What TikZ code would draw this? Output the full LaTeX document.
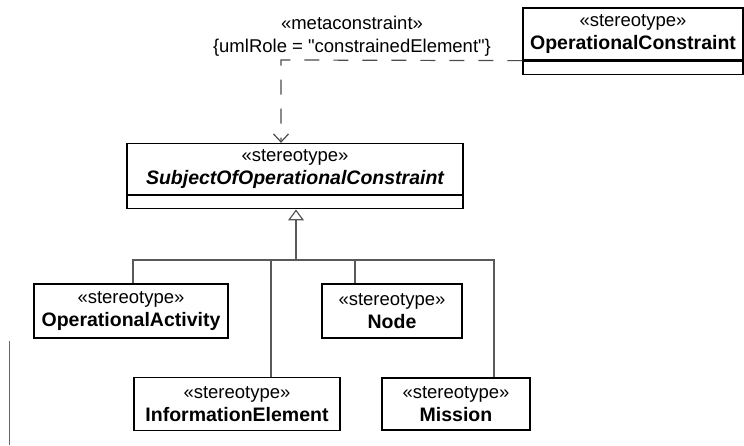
\documentclass[tikz,border=0pt]{standalone}
\usepackage{fontspec}
\setmainfont{Liberation Sans}
\usepackage{tikz}
\usetikzlibrary{arrows.meta,positioning}
\newcommand{\regtxt}{\fontsize{18.5}{23.5}\selectfont}
\newcommand{\stname}[1]{{\fontsize{19.5}{23.5}\selectfont\bfseries #1}}
\newcommand{\stabs}[1]{{\fontsize{19.5}{23.5}\selectfont\bfseries\itshape #1}}
\tikzset{
  >=Stealth,
  stereo/.style={draw, line width=1.3pt, inner sep=0pt, align=center, font=\regtxt},
  attrbox/.style={draw, line width=1.3pt, inner sep=0pt},
  gen/.style={draw=black!65, line width=1.2pt},
  dep/.style={draw=black!70, line width=1.2pt, dash pattern=on 15pt off 14pt},
  lbl/.style={align=center, font=\regtxt}
}
\begin{document}
\begin{tikzpicture}[x=1pt, y=-1pt]
    \useasboundingbox (0,0) rectangle (744,446);
    \node[stereo, minimum width=220pt, minimum height=52pt] (opcon) at (633, 34) {«stereotype»\\\stname{OperationalConstraint}};
    \node[attrbox, minimum width=220pt, minimum height=13pt, anchor=north] (opconA) at (opcon.south) {};
    \node[stereo, minimum width=336pt, minimum height=51pt] (subj) at (295, 169) {«stereotype»\\\stabs{SubjectOfOperationalConstraint}};
    \node[attrbox, minimum width=336pt, minimum height=13pt, anchor=north] (subjA) at (subj.south) {};
    \node[stereo, minimum width=194pt, minimum height=54pt] (opact) at (131, 311) {«stereotype»\\\stname{OperationalActivity}};
    \node[stereo, minimum width=140pt, minimum height=54pt] (opnode) at (392, 311) {«stereotype»\\\stname{Node}};
    \node[stereo, minimum width=206pt, minimum height=53pt] (infoel) at (237, 404) {«stereotype»\\\stname{InformationElement}};
    \node[stereo, minimum width=148pt, minimum height=52pt] (mission) at (456, 404) {«stereotype»\\\stname{Mission}};
    \node[lbl] (meta) at (352, 36) {«metaconstraint»\\\{umlRole = \textquotedbl constrainedElement\textquotedbl\}};
    \coordinate (bend) at (281, 60);
    \coordinate (hub) at (296, 260);
    \draw[dep, -{Straight Barb[length=8pt, width=15pt]}] (opcon.south west) -- (bend) -- (bend |- subj.north);
    \draw[gen, -{Triangle[open, length=11pt, width=16pt, fill=white]}] (hub) -- (hub |- subjA.south);
    \draw[gen] (hub) -| ([xshift=2]opact.north);
    \draw[gen] (hub) -| ([xshift=34]infoel.north);
    \draw[gen] (hub) -| ([xshift=-37]opnode.north);
    \draw[gen] (hub) -| ([xshift=38]mission.north);
    \coordinate (mk1) at (9, 341);
    \coordinate (mk2) at (9, 445);
    \draw[black!60, line width=0.9pt] (mk1) -- (mk2);
\end{tikzpicture}
\end{document}
